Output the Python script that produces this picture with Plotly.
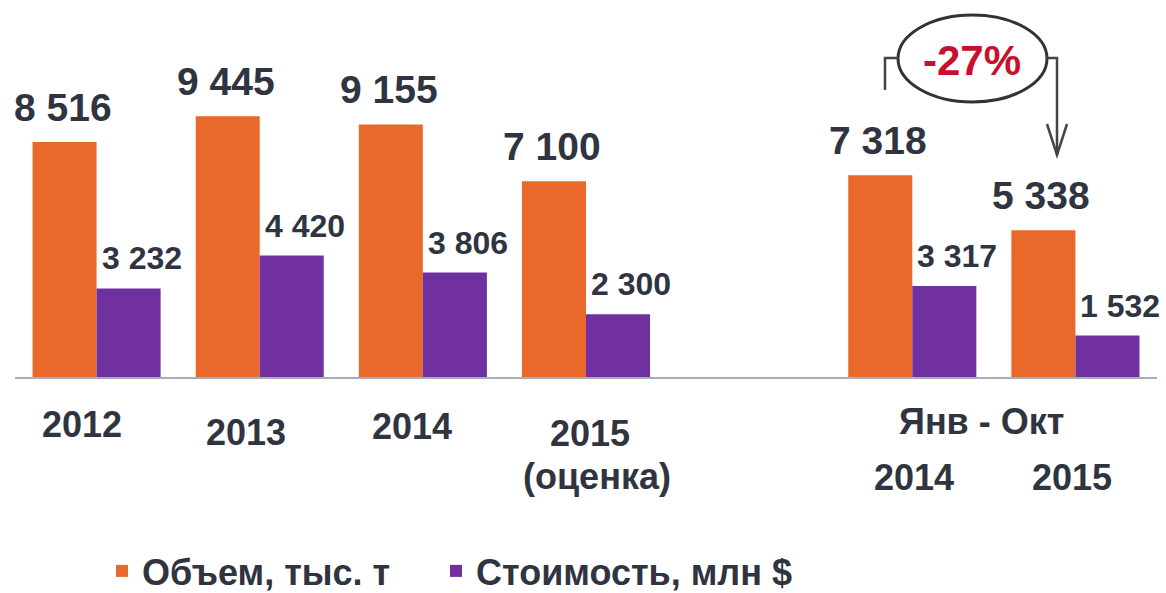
import plotly.graph_objects as go

# ---- data ----
positions = [0, 1, 2, 3, 5, 6]
volume = [8516, 9445, 9155, 7100, 7318, 5338]      # Объем, тыс. т
value = [3232, 4420, 3806, 2300, 3317, 1532]       # Стоимость, млн $
series_names = ["Объем, тыс. т", "Стоимость, млн $"]
change_label = "-27%"

ORANGE = "#E8692A"
PURPLE = "#7030A0"
TEXT = "#2F3440"
RED = "#C8102E"

W, H = 1166, 593
L, R, T, B = 15, 9, 0, 215
PW, PH = W - L - R, H - T - B


def px_x(px):
    return (px - L) / PW


def px_y(py):
    return (H - B - py) / PH


def fmt(v):
    return f"{v:,}".replace(",", " ")


FONT = "Liberation Sans, Arial, sans-serif"

fig = go.Figure()
fig.add_trace(go.Bar(x=positions, y=volume, name=series_names[0], legend="legend",
                     marker=dict(color=ORANGE, line=dict(width=0))))
fig.add_trace(go.Bar(x=positions, y=value, name=series_names[1], legend="legend2",
                     marker=dict(color=PURPLE, line=dict(width=0))))

annotations = []
off = 0.785 / 4
for p, v in zip(positions, volume):
    annotations.append(dict(x=p - off, y=v, xref="x", yref="y", text=f"<b>{fmt(v)}</b>",
                            showarrow=False, yanchor="bottom", yshift=11, xshift=-2,
                            font=dict(family=FONT, size=39, color=TEXT)))
for p, v in zip(positions, value):
    annotations.append(dict(x=p + off, y=v, xref="x", yref="y", text=f"<b>{fmt(v)}</b>",
                            showarrow=False, yanchor="bottom", yshift=10, xshift=13,
                            font=dict(family=FONT, size=32, color=TEXT)))

# category labels
cat_labels = [
    ("2012", 82, 424), ("2013", 246, 432), ("2014", 412, 426),
    ("2015", 590, 433), ("(оценка)", 597, 476),
    ("Янв - Окт", 981, 422), ("2014", 914, 477), ("2015", 1072, 477),
]
for txt, cx, cy in cat_labels:
    annotations.append(dict(x=px_x(cx), y=px_y(cy), xref="paper", yref="paper",
                            text=f"<b>{txt}</b>", showarrow=False,
                            xanchor="center", yanchor="middle",
                            font=dict(family=FONT, size=36, color=TEXT)))

# change label
annotations.append(dict(x=px_x(972), y=px_y(60), xref="paper", yref="paper",
                        text=f"<b>{change_label}</b>", showarrow=False,
                        xanchor="center", yanchor="middle",
                        font=dict(family=FONT, size=42, color=RED)))

shapes = [
    dict(type="line", xref="paper", yref="paper", x0=0, x1=1, y0=0, y1=0,
         line=dict(color="#A7AEBB", width=2)),
    dict(type="circle", xref="paper", yref="paper",
         x0=px_x(898), x1=px_x(1047), y0=px_y(102), y1=px_y(15),
         line=dict(color="#333333", width=3)),
    dict(type="path", xref="paper", yref="paper",
         path=f"M{px_x(885)},{px_y(90)} L{px_x(885)},{px_y(58)} L{px_x(898)},{px_y(58)}",
         line=dict(color="#444444", width=2.5)),
    dict(type="path", xref="paper", yref="paper",
         path=f"M{px_x(1047)},{px_y(58)} L{px_x(1057)},{px_y(58)} L{px_x(1057)},{px_y(155)}",
         line=dict(color="#444444", width=2.5)),
    dict(type="path", xref="paper", yref="paper",
         path=f"M{px_x(1047)},{px_y(124)} L{px_x(1057)},{px_y(155)} L{px_x(1067)},{px_y(124)}",
         line=dict(color="#444444", width=2.5)),
]

legend_common = dict(orientation="h", xanchor="left", yanchor="middle",
                     font=dict(family=FONT, size=36, color=TEXT, weight="bold"),
                     itemclick=False, itemdoubleclick=False,
                     bgcolor="rgba(0,0,0,0)", borderwidth=0)

fig.update_layout(
    width=W, height=H,
    margin=dict(l=L, r=R, t=T, b=B, autoexpand=False),
    paper_bgcolor="white", plot_bgcolor="white",
    barmode="group", bargap=0.215, bargroupgap=0,
    xaxis=dict(range=[-0.5, 6.5], visible=False, fixedrange=True),
    yaxis=dict(range=[0, PH / 0.0277], visible=False, fixedrange=True),
    showlegend=True,
    legend=dict(x=px_x(102), y=px_y(571), **legend_common),
    legend2=dict(x=px_x(436), y=px_y(571), **legend_common),
    annotations=annotations,
    shapes=shapes,
)

fig.write_html("out.html", config={"displayModeBar": False},
               post_script="document.body.style.margin='0';document.body.style.overflow='hidden';")
